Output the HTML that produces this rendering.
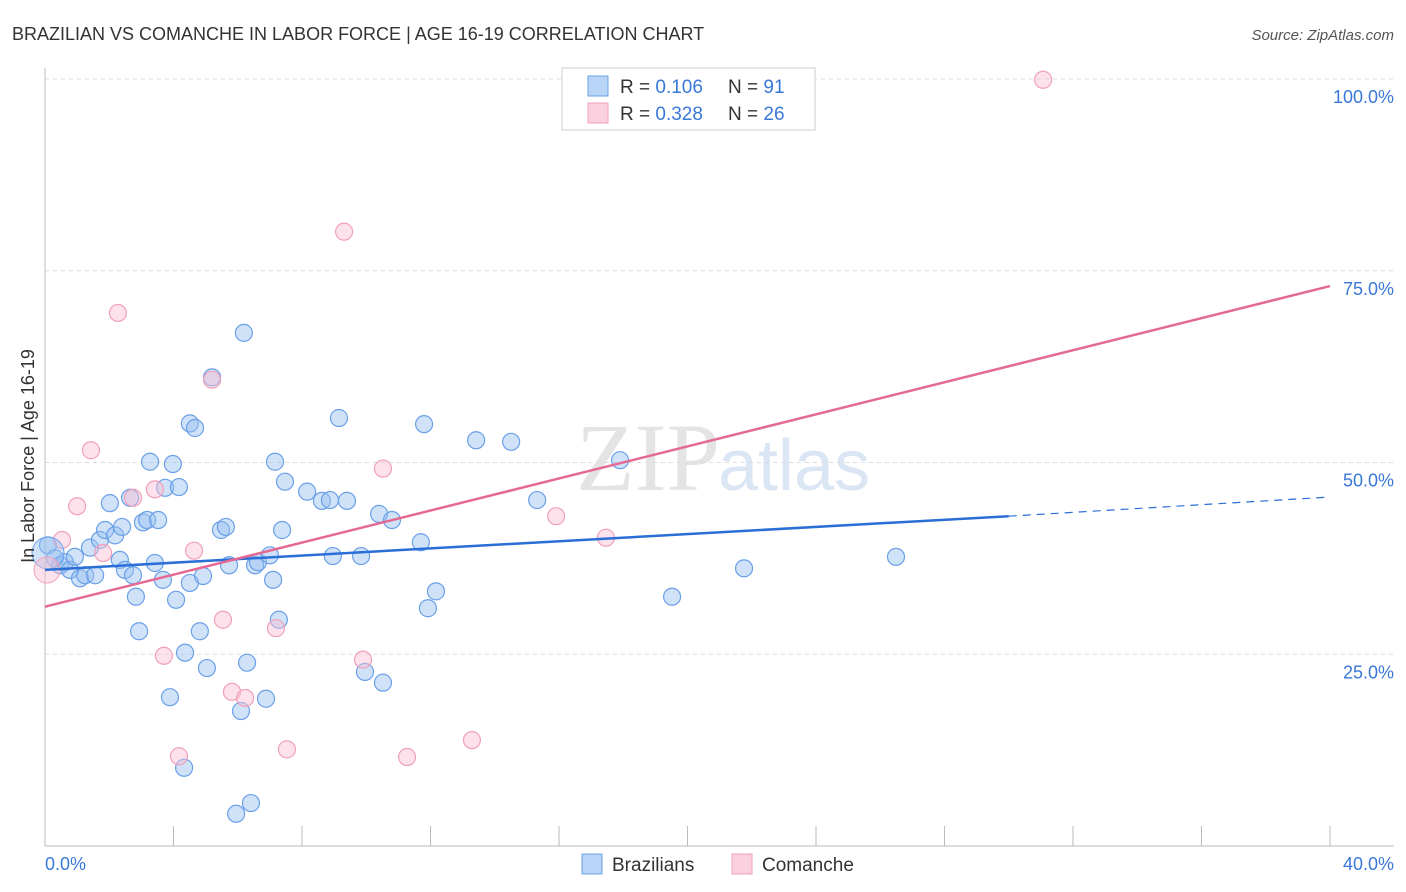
<!DOCTYPE html>
<html><head><meta charset="utf-8"><style>
body{margin:0;background:#fff;font-family:"Liberation Sans",sans-serif;}
svg{display:block}
</style></head><body>
<svg id="c" width="1406" height="892">
<text x="12" y="40" font-size="18" fill="#333">BRAZILIAN VS COMANCHE IN LABOR FORCE | AGE 16-19 CORRELATION CHART</text>
<text x="1394" y="40" font-size="15" fill="#555" font-style="italic" text-anchor="end">Source: ZipAtlas.com</text>
<text x="720" y="490" font-size="96" fill="#e4e4e4" text-anchor="end" font-family="Liberation Serif,serif">ZIP</text>
<text x="718" y="490" font-size="72" fill="#dbe6f4">atlas</text>
<g id="grid"></g><g id="axes"></g><g id="marks"></g>
<text transform="translate(34,456) rotate(-90)" font-size="18" fill="#333" text-anchor="middle">In Labor Force | Age 16-19</text>
<text x="45" y="870" font-size="18" fill="#3a78d8">0.0%</text>
<text x="1394" y="870" font-size="18" fill="#3a78d8" text-anchor="end">40.0%</text>
<g>
<rect x="562" y="68" width="253" height="62" fill="#fff" stroke="#ccc"/>
<rect x="588" y="76" width="20" height="20" fill="#b8d4f6" stroke="#6aa0e8"/>
<rect x="588" y="103" width="20" height="20" fill="#fbd0de" stroke="#f0a0bb"/>
<text x="620" y="93" font-size="19" fill="#333">R = <tspan fill="#3a78d8">0.106</tspan><tspan x="728">N = </tspan><tspan fill="#3a78d8">91</tspan></text>
<text x="620" y="120" font-size="19" fill="#333">R = <tspan fill="#3a78d8">0.328</tspan><tspan x="728">N = </tspan><tspan fill="#3a78d8">26</tspan></text>
</g>
<g>
<rect x="582" y="854" width="20" height="20" fill="#b8d4f6" stroke="#6aa0e8"/>
<text x="612" y="871" font-size="19" fill="#333">Brazilians</text>
<rect x="732" y="854" width="20" height="20" fill="#fbd0de" stroke="#f0a0bb"/>
<text x="762" y="871" font-size="19" fill="#333">Comanche</text>
</g>
</svg>
<script>
const yTicks=[25,50,75,100];
const yTickLabels=["25.0%","50.0%","75.0%","100.0%"];
const xTicks=[0,4,8,12,16,20,24,28,32,36,40];
const bluePx=[[48,545],[55,558],[60,565],[65,562],[70,570],[75,557],[80,578],[85,575],[90,548],[95,575],[100,540],[105,530],[110,503],[115,535],[120,560],[122,527],[125,570],[130,498],[133,575],[136,597],[139,631],[143,522],[147,520],[150,462],[155,563],[158,520],[163,580],[165,488],[170,697],[173,464],[176,600],[179,487],[184,768],[185,653],[190,583],[190,423],[195,428],[200,631],[203,576],[207,668],[212,377],[221,530],[226,527],[229,565],[241,711],[244,333],[247,663],[251,803],[236,814],[255,565],[258,562],[266,699],[270,555],[273,580],[275,462],[279,620],[282,530],[285,482],[307,492],[322,501],[330,500],[333,556],[339,418],[347,501],[361,556],[365,672],[379,514],[383,683],[392,520],[421,542],[424,424],[428,608],[436,591],[476,440],[511,442],[537,500],[620,460],[672,597],[744,568],[896,557]];
const pinkPx=[[62,540],[77,506],[91,450],[103,553],[118,313],[133,498],[155,489],[164,656],[179,756],[194,551],[212,380],[223,620],[232,692],[245,698],[276,628],[287,749],[344,232],[363,660],[383,469],[407,757],[472,740],[556,516],[606,538],[1043,80]];
// convert estimated reading positions into data values
const blueX=bluePx.map(p=>+((p[0]-45)/32.125).toFixed(2));
const blueY=bluePx.map(p=>+((846-p[1])/7.67).toFixed(1));
const pinkX=pinkPx.map(p=>+((p[0]-45)/32.125).toFixed(2));
const pinkY=pinkPx.map(p=>+((846-p[1])/7.67).toFixed(1));
const blueTrend=[36.0,43.0,45.5]; // at x=0, 30, 40
const pinkTrend=[31.2,73.0];      // at x=0, 40
const X=v=>45+v*32.125, Y=v=>846-v*7.67;
const NS="http://www.w3.org/2000/svg";
function mk(t,a,p){const e=document.createElementNS(NS,t);for(const k in a)e.setAttribute(k,a[k]);p.appendChild(e);return e;}
const grid=document.getElementById('grid'),axes=document.getElementById('axes'),marks=document.getElementById('marks');
yTicks.forEach((t,i)=>{
 const l=mk('line',{x1:45,x2:1394,y1:Y(t),y2:Y(t),stroke:'#ddd','stroke-dasharray':'4,4'},grid);
 
 
 const tx=mk('text',{x:1394,y:Y(t)+24,'font-size':18,fill:'#3a78d8','text-anchor':'end'},axes);
 tx.textContent=yTickLabels[i];
 
 
});
const ax=mk('line',{x1:45,x2:45,y1:68,y2:846,stroke:'#bbb'},axes);


const bx=mk('line',{x1:45,x2:1394,y1:846,y2:846,stroke:'#bbb'},axes);


xTicks.forEach(t=>{const l=mk('line',{x1:X(t),x2:X(t),y1:826,y2:846,stroke:'#bbb'},axes);
 
 });
blueX.forEach((x,i)=>{const c=mk('circle',{cx:X(x),cy:Y(blueY[i]),r:8.5,fill:'rgba(150,190,240,0.45)',stroke:'#6aa0e8','stroke-width':1.2},marks);
 
 });
pinkX.forEach((x,i)=>{const c=mk('circle',{cx:X(x),cy:Y(pinkY[i]),r:8.5,fill:'rgba(250,190,210,0.45)',stroke:'#f0a0bb','stroke-width':1.2},marks);
 
 });
let b=mk('circle',{cx:48,cy:553,r:16,fill:'rgba(150,190,240,0.45)',stroke:'#6aa0e8'},marks);


b=mk('circle',{cx:47,cy:570,r:13,fill:'rgba(250,190,210,0.45)',stroke:'#f0a0bb'},marks);


const t1=mk('line',{x1:X(0),y1:Y(blueTrend[0]),x2:X(30),y2:Y(blueTrend[1]),stroke:'#2a6fd6','stroke-width':2.5},marks);


const t2=mk('line',{x1:X(30),y1:Y(blueTrend[1]),x2:X(40),y2:Y(blueTrend[2]),stroke:'#2a6fd6','stroke-width':1.2,'stroke-dasharray':'8,6'},marks);


const t3=mk('line',{x1:X(0),y1:Y(pinkTrend[0]),x2:X(40),y2:Y(pinkTrend[1]),stroke:'#e46a94','stroke-width':2.5},marks);


</script>
</body></html>
